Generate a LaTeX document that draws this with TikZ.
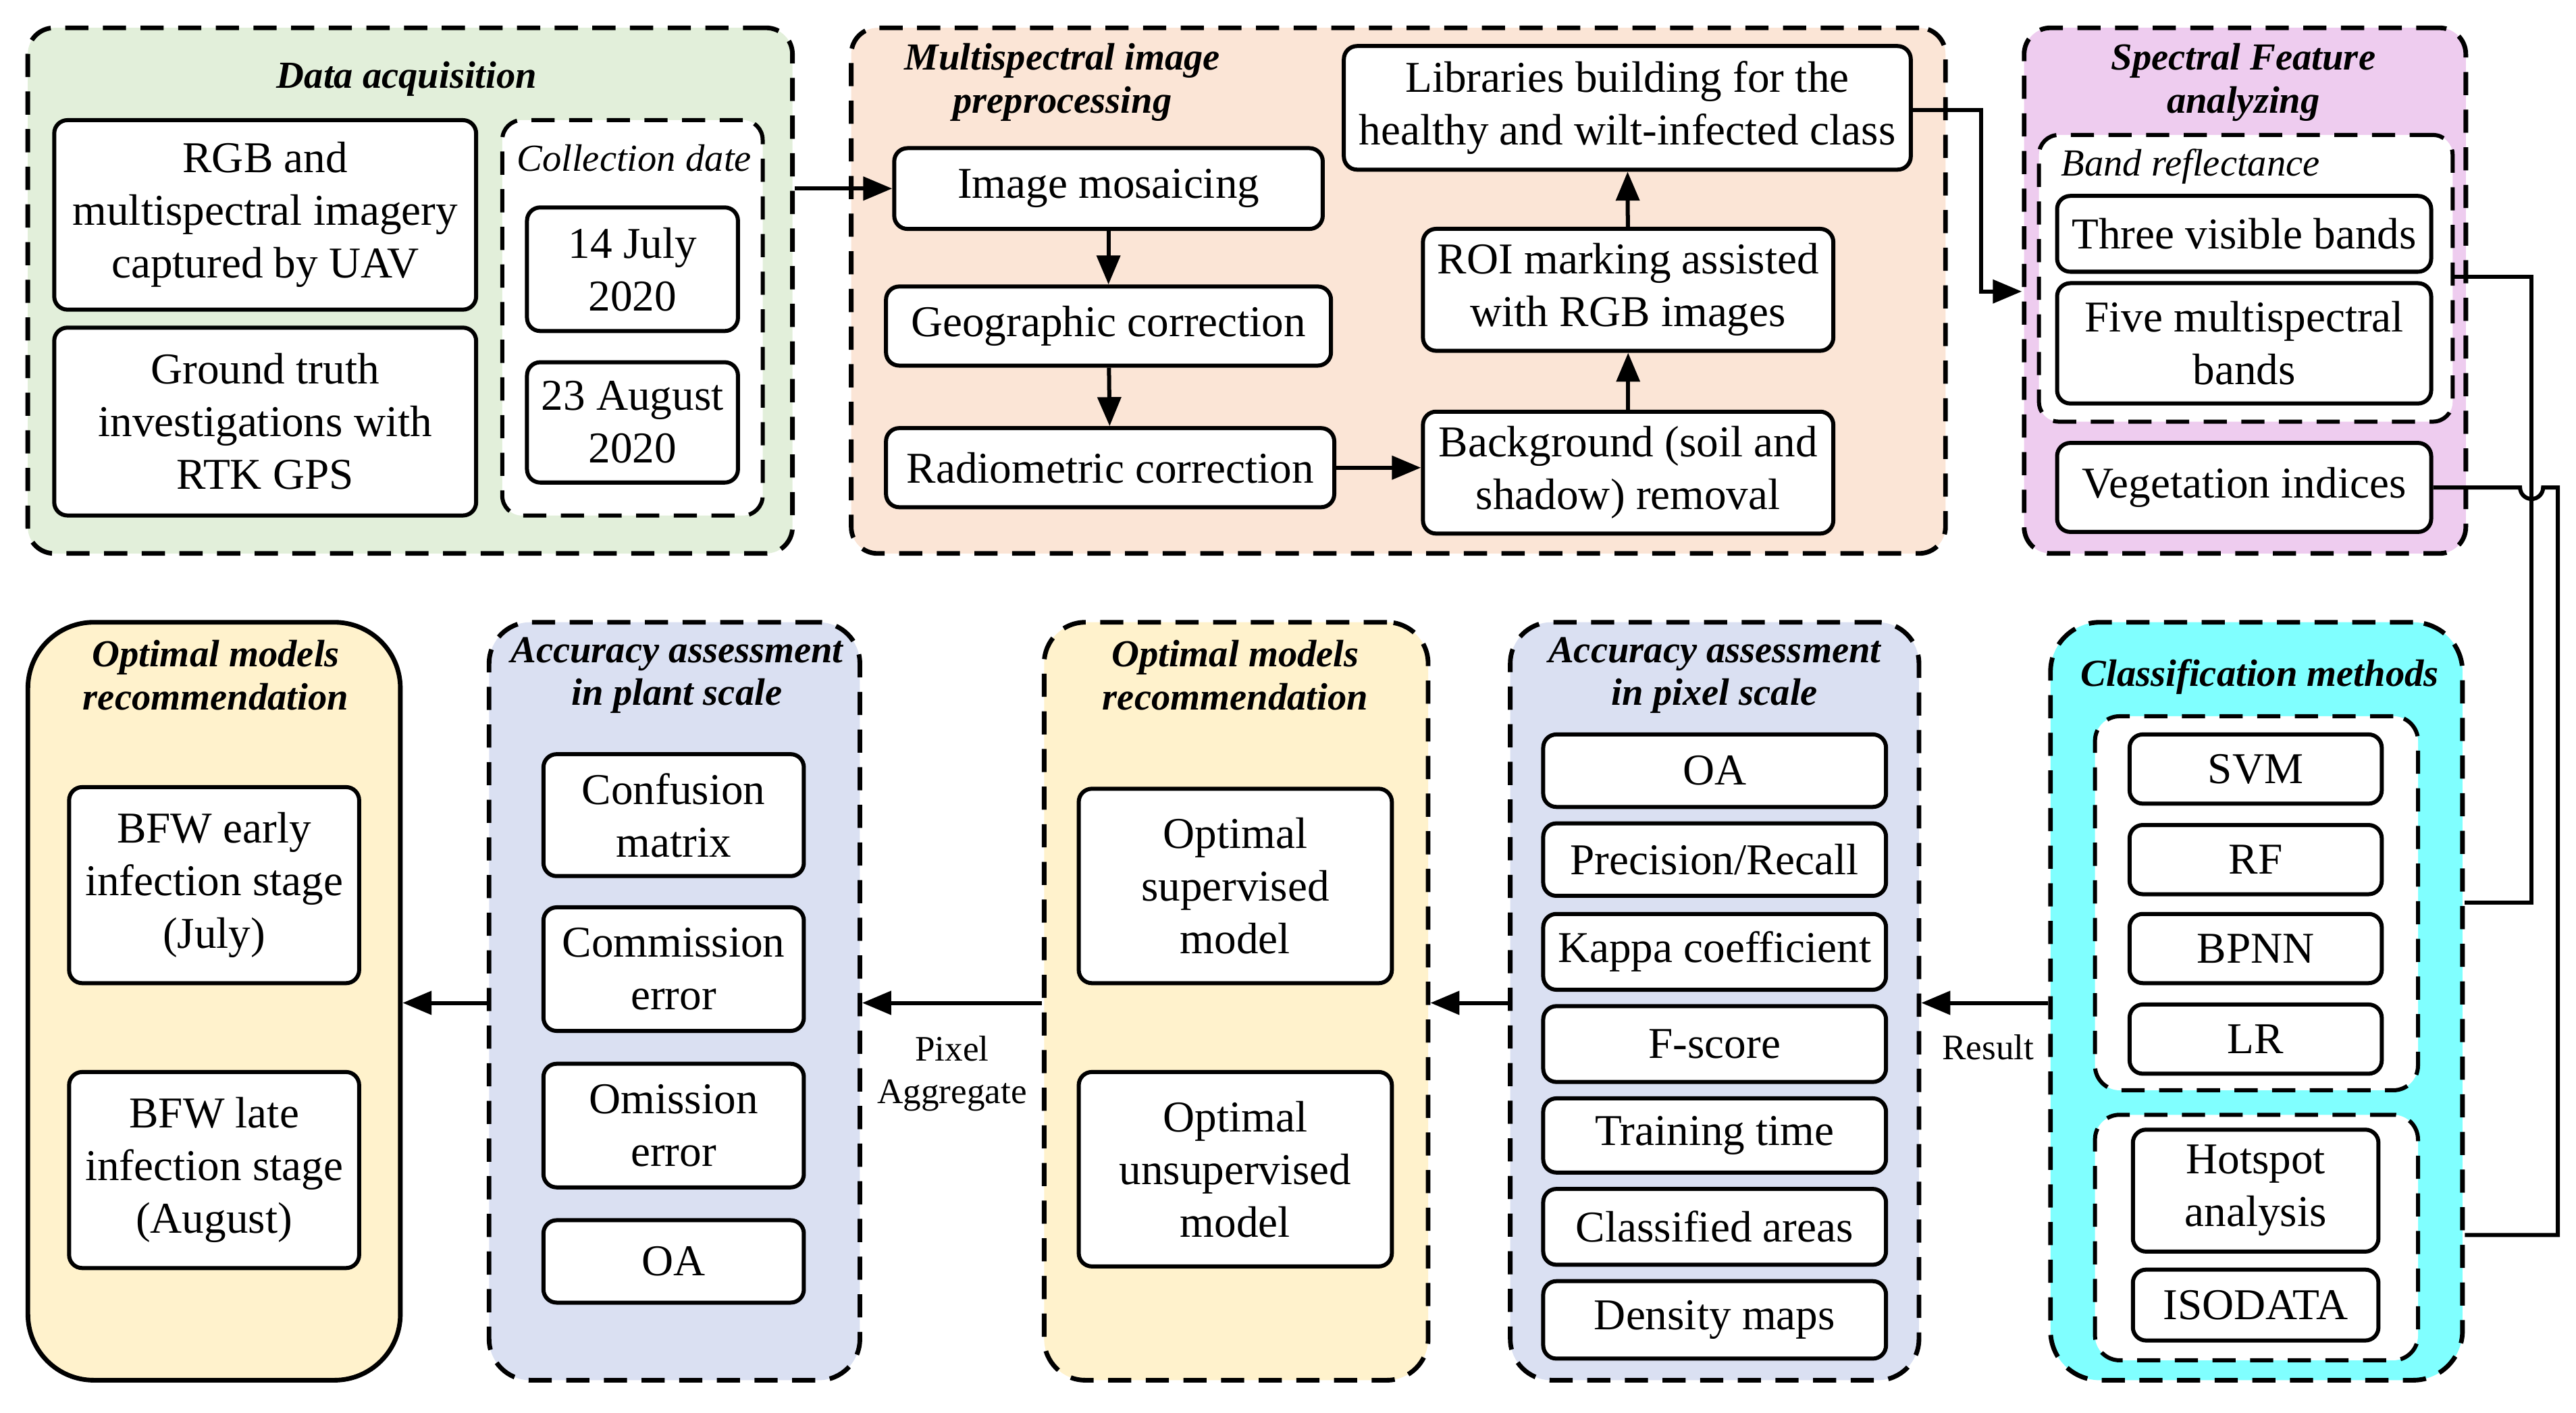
\documentclass[tikz,border=0pt]{standalone}
\usepackage{fontspec}
\setmainfont{Liberation Serif}
\usetikzlibrary{arrows.meta}
\definecolor{cgreen}{HTML}{E2EFDA}
\definecolor{corange}{HTML}{FBE5D6}
\definecolor{cpink}{HTML}{EECCEF}
\definecolor{ccyan}{HTML}{80FFFF}
\definecolor{cyellow}{HTML}{FFF2CC}
\definecolor{clav}{HTML}{DAE0F2}
\begin{document}
\begin{tikzpicture}[x=0.01cm,y=-0.01cm,
  grp/.style={draw,dashed,dash pattern=on 4pt off 2.5pt,rounded corners=0.16cm,line width=0.8pt},
  bx/.style={draw,rounded corners=0.08cm,line width=0.7pt,fill=white,align=center,inner sep=0pt,font=\fontsize{7.6}{9.1}\selectfont},
  ttl/.style={align=center,font=\fontsize{6.6}{7.4}\selectfont\bfseries\itshape,inner sep=0pt},
  lbl/.style={align=center,font=\fontsize{6.2}{7.4}\selectfont,inner sep=0pt},
  arr/.style={-{Triangle[length=5pt,width=4pt]},line width=0.7pt},
  ln/.style={line width=0.7pt}]
\useasboundingbox (0,0) rectangle (1564,858);
% group boxes
\node[grp,fill=cgreen,minimum width=4.64cm,minimum height=3.19cm] (g1) at (249,176.5) {};
\node[grp,fill=corange,minimum width=6.64cm,minimum height=3.19cm] (g2) at (849,176.5) {};
\node[grp,fill=cpink,minimum width=2.68cm,minimum height=3.19cm] (g3) at (1363,176.5) {};
\node[grp,fill=ccyan,rounded corners=0.3cm,minimum width=2.50cm,minimum height=4.60cm] (g4) at (1370,608) {};
\node[grp,fill=clav,rounded corners=0.25cm,minimum width=2.48cm,minimum height=4.60cm] (g5) at (1041,608) {};
\node[grp,fill=cyellow,rounded corners=0.25cm,minimum width=2.33cm,minimum height=4.60cm] (g6) at (750.5,608) {};
\node[grp,fill=clav,rounded corners=0.25cm,minimum width=2.25cm,minimum height=4.60cm] (g7) at (409.5,608) {};
\node[draw,line width=0.8pt,fill=cyellow,rounded corners=0.4cm,minimum width=2.26cm,minimum height=4.60cm] (g8) at (130,608) {};
% titles
\node[ttl] (t1) at (247,48) {Data acquisition};
\node[ttl] (t2) at (645,50) {Multispectral image\\preprocessing};
\node[ttl] (t3) at (1362,50) {Spectral Feature\\analyzing};
\node[ttl] (t4) at (1372,411) {Classification methods};
\node[ttl] (t5) at (1041,410) {Accuracy assessment\\in pixel scale};
\node[ttl] (t6) at (750,410) {Optimal models\\recommendation};
\node[ttl] (t7) at (411,410) {Accuracy assessment\\in plant scale};
\node[ttl] (t8) at (131,410) {Optimal models\\recommendation};
% data acquisition
\node[bx,minimum width=2.56cm,minimum height=1.15cm] (rgb) at (161,130.5) {RGB and\\multispectral imagery\\captured by UAV};
\node[bx,minimum width=2.56cm,minimum height=1.14cm] (gt) at (161,256) {Ground truth\\investigations with\\RTK GPS};
\node[grp,fill=white,rounded corners=0.12cm,line width=0.7pt,minimum width=1.58cm,minimum height=2.40cm] (cd) at (384,193) {};
\node[lbl,font=\fontsize{6.6}{7.4}\selectfont\itshape] (cdt) at (385,96) {Collection date};
\node[bx,minimum width=1.28cm,minimum height=0.75cm] (d1) at (384,163.5) {14 July\\2020};
\node[bx,minimum width=1.28cm,minimum height=0.73cm] (d2) at (384,256.5) {23 August\\2020};
% preprocessing
\node[bx,minimum width=2.60cm,minimum height=0.49cm] (mos) at (673,114.5) {Image mosaicing};
\node[bx,minimum width=2.70cm,minimum height=0.48cm] (geo) at (673,198) {Geographic correction};
\node[bx,minimum width=2.72cm,minimum height=0.48cm] (rad) at (674,284) {Radiometric correction};
\node[bx,minimum width=2.49cm,minimum height=0.74cm] (bg) at (988.5,287) {Background (soil and\\shadow) removal};
\node[bx,minimum width=2.49cm,minimum height=0.74cm] (roi) at (988.5,176) {ROI marking assisted\\with RGB images};
\node[bx,minimum width=3.44cm,minimum height=0.75cm] (lib) at (988,65.5) {Libraries building for the\\healthy and wilt-infected class};
% spectral
\node[grp,fill=white,rounded corners=0.12cm,line width=0.7pt,minimum width=2.51cm,minimum height=1.74cm] (band) at (1363.5,169) {};
\node[lbl,font=\fontsize{6.6}{7.4}\selectfont\itshape] (bandt) at (1330,101) {Band reflectance};
\node[bx,minimum width=2.27cm,minimum height=0.46cm] (vis) at (1362.5,142) {Three visible bands};
\node[bx,minimum width=2.27cm,minimum height=0.73cm] (five) at (1362.5,208.5) {Five multispectral\\bands};
\node[bx,minimum width=2.27cm,minimum height=0.54cm] (veg) at (1362.5,296) {Vegetation indices};
% classification
\node[grp,fill=white,rounded corners=0.15cm,line width=0.7pt,minimum width=1.96cm,minimum height=2.27cm] (sup) at (1370,548.5) {};
\node[bx,minimum width=1.53cm,minimum height=0.42cm] (svm) at (1369.5,467) {SVM};
\node[bx,minimum width=1.53cm,minimum height=0.42cm] (rf) at (1369.5,522) {RF};
\node[bx,minimum width=1.53cm,minimum height=0.42cm] (bpnn) at (1369.5,576) {BPNN};
\node[bx,minimum width=1.53cm,minimum height=0.42cm] (lr) at (1369.5,631) {LR};
\node[grp,fill=white,rounded corners=0.15cm,line width=0.7pt,minimum width=1.96cm,minimum height=1.49cm] (uns) at (1370,751.5) {};
\node[bx,minimum width=1.49cm,minimum height=0.74cm] (hot) at (1369.5,723) {Hotspot\\analysis};
\node[bx,minimum width=1.49cm,minimum height=0.43cm] (iso) at (1369.5,792.5) {ISODATA};
% pixel accuracy
\node[bx,minimum width=2.08cm,minimum height=0.44cm] (p1) at (1041,468) {OA};
\node[bx,minimum width=2.08cm,minimum height=0.44cm] (p2) at (1041,522) {Precision/Recall};
\node[bx,minimum width=2.08cm,minimum height=0.46cm] (p3) at (1041,578) {Kappa coefficient};
\node[bx,minimum width=2.08cm,minimum height=0.46cm] (p4) at (1041,634) {F-score};
\node[bx,minimum width=2.08cm,minimum height=0.45cm] (p5) at (1041,689.5) {Training time};
\node[bx,minimum width=2.08cm,minimum height=0.46cm] (p6) at (1041,745) {Classified areas};
\node[bx,minimum width=2.08cm,minimum height=0.47cm] (p7) at (1041,801.5) {Density maps};
% optimal mid
\node[bx,minimum width=1.90cm,minimum height=1.18cm] (os) at (750,538) {Optimal\\supervised\\model};
\node[bx,minimum width=1.90cm,minimum height=1.18cm] (ou) at (750,710) {Optimal\\unsupervised\\model};
% plant accuracy
\node[bx,minimum width=1.58cm,minimum height=0.74cm] (c1) at (409,495) {Confusion\\matrix};
\node[bx,minimum width=1.58cm,minimum height=0.75cm] (c2) at (409,588.5) {Commission\\error};
\node[bx,minimum width=1.58cm,minimum height=0.75cm] (c3) at (409,683.5) {Omission\\error};
\node[bx,minimum width=1.58cm,minimum height=0.50cm] (c4) at (409,766) {OA};
% optimal left
\node[bx,minimum width=1.76cm,minimum height=1.19cm] (b1) at (130,537.5) {BFW early\\infection stage\\(July)};
\node[bx,minimum width=1.76cm,minimum height=1.19cm] (b2) at (130,710.5) {BFW late\\infection stage\\(August)};
% connectors
\draw[arr] (g1.east |- mos) -- (mos.west);
\draw[arr] (mos) -- (geo);
\draw[arr] (geo) -- (rad);
\draw[arr] (rad.east) -- (bg.west |- rad.east);
\draw[arr] (bg) -- (roi);
\draw[arr] (roi) -- (lib);
\coordinate (k1) at (1203,67);
\coordinate (k2) at (1203,177);
\draw[arr] (lib.east |- k1) -- (k1) -- (k2) -- (g3.west |- k2);
\coordinate (r1) at (1537,168);
\coordinate (r2) at (1537,548);
\draw[ln] (band.east |- r1) -- (r1) -- (r2) -- (g4.east |- r2);
\coordinate (v1) at (1553,296);
\coordinate (v2) at (1553,750);
\draw[ln] (veg.east) -- (1530,296) arc[start angle=180,end angle=0,radius=7] -- (v1) -- (v2) -- (g4.east |- v2);
\draw[arr] (g4.west |- 0,609) -- (g5.east |- 0,609);
\draw[arr] (g5.west |- 0,609) -- (g6.east |- 0,609);
\draw[arr] (g6.west |- 0,609) -- (g7.east |- 0,609);
\draw[arr] (g7.west |- 0,609) -- (g8.east |- 0,609);
\node[lbl] (res) at (1207,636) {Result};
\node[lbl] (pa) at (578,652) {Pixel\\Aggregate};
\end{tikzpicture}
\end{document}
